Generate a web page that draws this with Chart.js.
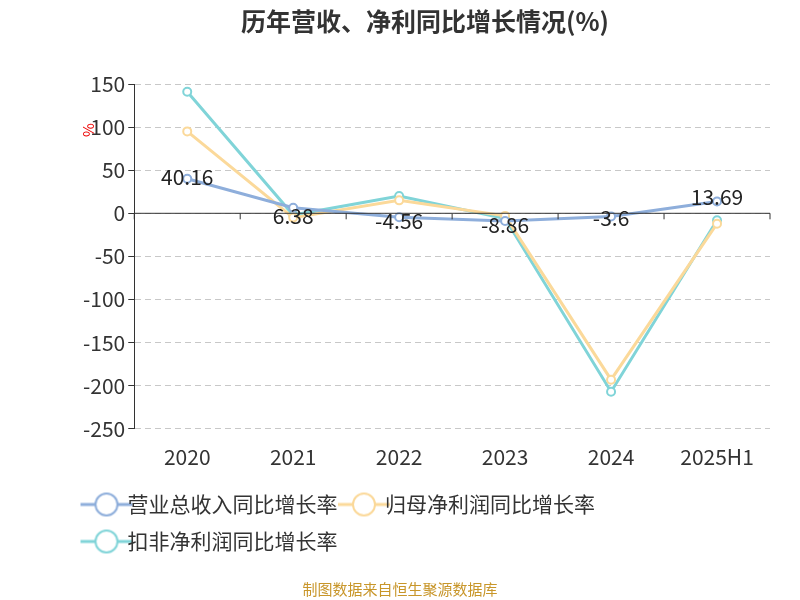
<!DOCTYPE html>
<html>
<head>
<meta charset="utf-8">
<script src="https://cdn.jsdelivr.net/npm/chart.js@4"></script>
<style>
  body { margin: 0; background: #fff; }
  #wrap { position: relative; width: 800px; height: 600px; }
  #footer { position: absolute; left: 0; width: 800px; top: 578px; text-align: center;
    font: 15px "Noto Sans CJK SC", sans-serif; color: #c8962a; }
</style>
</head>
<body>
<div id="wrap">
  <canvas id="chart" width="800" height="600"></canvas>
  <div id="footer">制图数据来自恒生聚源数据库</div>
</div>
<script>
// Data
const categories = ["2020", "2021", "2022", "2023", "2024", "2025H1"];
const revenueGrowth = [40.16, 6.38, -4.56, -8.86, -3.6, 13.69];
const netProfitGrowth = [95, -5, 15, -3, -193, -12];
const deductedGrowth = [141, -2, 20, -6, -207, -8];
const seriesNames = ["营业总收入同比增长率", "归母净利润同比增长率", "扣非净利润同比增长率"];
const seriesColors = ["#8eaedb", "#fbd99a", "#80d4d8"];
const font = '"Noto Sans CJK SC", "Noto Sans", sans-serif';

function legendIcon(color) {
    const c = document.createElement("canvas");
    c.width = 56; c.height = 28;
    const ctx = c.getContext("2d");
    ctx.strokeStyle = color;
    ctx.lineWidth = 3;
    ctx.beginPath(); ctx.moveTo(2, 14); ctx.lineTo(54, 14); ctx.stroke();
    ctx.fillStyle = "#fff";
    ctx.lineWidth = 2;
    ctx.beginPath(); ctx.arc(28, 14, 11, 0, Math.PI * 2); ctx.fill(); ctx.stroke();
    return c;
}

const extras = {
    id: "extras",
    afterDraw(chart) {
        const ctx = chart.ctx;
        const x = chart.scales.x, y = chart.scales.y;
        const y0 = y.getPixelForValue(0);
        ctx.save();
        ctx.strokeStyle = "#333";
        ctx.lineWidth = 1;
        ctx.beginPath();
        ctx.moveTo(x.left, y0); ctx.lineTo(x.right, y0);
        for (let i = 0; i <= categories.length; i++) {
            const px = x.left + (x.right - x.left) * i / categories.length;
            ctx.moveTo(px, y0); ctx.lineTo(px, y0 + 6);
        }
        ctx.stroke();
        // data labels for revenue
        ctx.fillStyle = "#222";
        ctx.font = "21px " + font;
        ctx.textAlign = "center";
        ctx.textBaseline = "middle";
        const meta = chart.getDatasetMeta(0);
        const shift = [-2, 8, 4, 4, 2, -4];
        meta.data.forEach((p, i) => {
            ctx.fillText(String(revenueGrowth[i]), p.x, p.y + shift[i]);
        });
        // % unit
        ctx.fillStyle = "#e00";
        ctx.font = "15px " + font;
        ctx.translate(88, 130);
        ctx.rotate(-Math.PI / 2);
        ctx.fillText("%", 0, 0);
        ctx.restore();
    }
};

const makeSet = (label, data, color) => ({
    label, data,
    borderColor: color,
    backgroundColor: "#fff",
    borderWidth: 3,
    pointRadius: 4,
    pointBorderWidth: 2,
    pointStyle: "circle",
    tension: 0
});

new Chart(document.getElementById("chart"), {
    type: "line",
    data: {
        labels: categories,
        datasets: [
            makeSet(seriesNames[0], revenueGrowth, seriesColors[0]),
            makeSet(seriesNames[1], netProfitGrowth, seriesColors[1]),
            makeSet(seriesNames[2], deductedGrowth, seriesColors[2])
        ]
    },
    options: {
        responsive: false,
        animation: false,
        layout: { padding: { left: 80, right: 30, top: 0, bottom: 38 } },
        plugins: {
            title: {
                display: true,
                text: "历年营收、净利同比增长情况(%)",
                font: { family: font, size: 25, weight: "bold" },
                color: "#333",
                padding: { top: 6, bottom: 48 }
            },
            legend: {
                position: "bottom",
                align: "start",
                labels: {
                    usePointStyle: true,
                    generateLabels(chart) {
                        return chart.data.datasets.map((d, i) => ({
                            text: d.label, pointStyle: legendIcon(seriesColors[i]),
                            datasetIndex: i, fontColor: "#333", lineWidth: 0
                        }));
                    },
                    font: { family: font, size: 21 },
                    color: "#333",
                    padding: 16
                }
            },
            tooltip: { enabled: false }
        },
        scales: {
            x: {
                offset: true,
                grid: { display: false },
                border: { display: false },
                ticks: { font: { family: font, size: 21 }, color: "#333", padding: 8 }
            },
            y: {
                min: -250, max: 150,
                ticks: { stepSize: 50, font: { family: font, size: 21 }, color: "#333" },
                grid: { color: "#c8c8c8", drawTicks: true, tickLength: 6, tickColor: "#333" },
                border: { display: true, color: "#333", dash: [6, 4] }
            }
        }
    },
    plugins: [extras]
});
</script>
</body>
</html>
